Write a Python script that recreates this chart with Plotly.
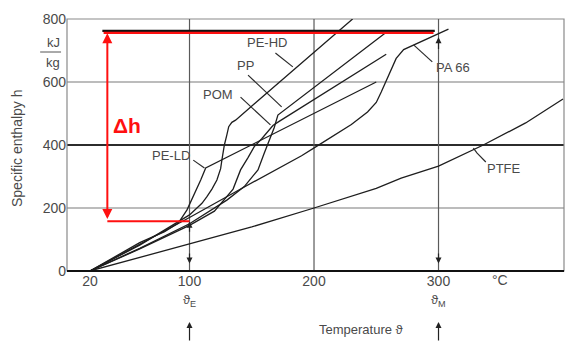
import plotly.graph_objects as go

# ---- data (temperature in °C, specific enthalpy in kJ/kg) ----
pehd_T = [20, 60, 100, 110, 114, 118, 122, 125, 126, 128, 130, 131.5, 134, 137, 231]
pehd_h = [0, 82, 178, 215, 236, 260, 289, 325, 352, 400, 432, 458, 472, 479, 800]

pp_T = [20, 60, 100, 130, 144, 155, 160, 165, 168, 171, 257]
pp_h = [0, 72, 150, 225, 268, 321, 374, 426, 455, 495, 755]

pom_T = [20, 60, 100, 120, 135, 141, 147, 152, 158, 163, 167, 172, 258]
pom_h = [0, 70, 145, 190, 260, 321, 360, 395, 420, 445, 462, 475, 688]

peld_T = [20, 60, 80, 91, 98, 103, 109, 113, 250]
peld_h = [0, 90, 125, 152, 194, 235, 289, 327, 600]

pa66_T = [20, 60, 100, 140, 170, 190, 203, 216, 230, 243, 250, 254, 258, 262, 266, 272, 284, 297, 308]
pa66_h = [0, 85, 170, 258, 322, 366, 398, 430, 465, 505, 535, 568, 605, 642, 675, 703, 724, 749, 768]

ptfe_T = [20, 100, 150, 200, 250, 270, 300, 336, 370, 400]
ptfe_h = [0, 85, 140, 200, 262, 295, 333, 400, 470, 546]

x_ticks = [20, 100, 200, 300, 400]
y_ticks = [0, 200, 400, 600, 800]

curve_names = ["PE-HD", "PP", "POM", "PE-LD", "PA 66", "PTFE"]
# label positions (T, h) and leader lines
label_pos = [(162, 727), (145, 651), (123, 559), (85, 368), (312, 645), (353, 327)]
leader_T = [[169, 183], [147, 174], [141, 165], [103, 112], [280, 295], [338, 331, 328]]
leader_h = [[692, 648], [622, 521], [552, 464], [352, 327], [718, 664], [346, 374, 390]]

dh_top, dh_bottom, dh_T = 757, 158, 34
T_E, T_M = 100, 300

GREY_TXT = "#4a4a4a"
FONT = "Liberation Sans"

fig = go.Figure()

curves = [(pehd_T, pehd_h), (pp_T, pp_h), (pom_T, pom_h),
          (peld_T, peld_h), (pa66_T, pa66_h), (ptfe_T, ptfe_h)]
for (tx, hy), nm in zip(curves, curve_names):
    fig.add_trace(go.Scatter(x=tx, y=hy, mode="lines", name=nm,
                             line=dict(color="#1e1e1e", width=1.3),
                             hoverinfo="skip", showlegend=False, cliponaxis=True))

for lt, lh in zip(leader_T, leader_h):
    fig.add_trace(go.Scatter(x=lt, y=lh, mode="lines",
                             line=dict(color="#2a2a2a", width=1.2),
                             hoverinfo="skip", showlegend=False))

# red / black delta-h construction
fig.add_trace(go.Scatter(x=[30, 297], y=[762, 762], mode="lines",
                         line=dict(color="#111", width=2.2), showlegend=False, hoverinfo="skip"))
fig.add_trace(go.Scatter(x=[31, 296], y=[756, 756], mode="lines",
                         line=dict(color="#ff1010", width=2.2), showlegend=False, hoverinfo="skip"))
fig.add_trace(go.Scatter(x=[dh_T, T_E], y=[dh_bottom, dh_bottom], mode="lines",
                         line=dict(color="#ff1010", width=2), showlegend=False, hoverinfo="skip"))

shapes = []
# vertical grid
for t in [100, 200, 300]:
    shapes.append(dict(type="line", xref="x", yref="y", x0=t, x1=t, y0=0, y1=800,
                       line=dict(color="#5a5a5a", width=1.2), layer="below"))
for hv, c, w in [(200, "#7a7a7a", 1.2), (600, "#7a7a7a", 1.2), (400, "#2c2c2c", 2.2)]:
    shapes.append(dict(type="line", xref="paper", yref="y", x0=0, x1=1, y0=hv, y1=hv,
                       line=dict(color=c, width=w), layer="below"))
# frame
shapes.append(dict(type="rect", xref="paper", yref="paper", x0=0, x1=1, y0=0, y1=1,
                   line=dict(color="#8a8a8a", width=1.2), layer="below"))
shapes.append(dict(type="line", xref="paper", yref="paper", x0=0, x1=1, y0=0, y1=0,
                   line=dict(color="#111", width=2.2)))
# kJ/kg fraction bar
shapes.append(dict(type="line", xref="paper", yref="paper", x0=-0.054, x1=-0.012,
                   y0=0.869, y1=0.869, line=dict(color="#555", width=1)))

ann = []
for nm, (tx, hy) in zip(curve_names, label_pos):
    ann.append(dict(x=tx, y=hy, text=nm, showarrow=False, xanchor="center", yanchor="middle",
                    font=dict(family=FONT, size=13, color=GREY_TXT)))

ann.append(dict(x=50, y=463, text="<b>Δh</b>", showarrow=False, xanchor="center",
                yanchor="middle", font=dict(family=FONT, size=21, color="#ff1010")))
# red double arrow
ann.append(dict(x=dh_T, y=dh_top - 2, ax=dh_T, ay=dh_bottom + 2, axref="x", ayref="y",
                text="", showarrow=True, arrowside="end+start", arrowhead=2,
                arrowsize=1, arrowwidth=2, arrowcolor="#ff1010"))
# arrowheads on grid lines
for t, h0, h1 in [(T_E, 60, 24), (T_M, 60, 24), (T_M, 700, 742), (T_E, 120, 156)]:
    ann.append(dict(x=t, y=h1, ax=t, ay=h0, axref="x", ayref="y", text="",
                    showarrow=True, arrowhead=2, arrowsize=1, arrowwidth=1.2,
                    arrowcolor="#222"))
# arrows under axis
for t in [T_E, T_M]:
    ann.append(dict(x=t, y=-0.202, xref="x", yref="paper", ax=0, ay=22, text="",
                    showarrow=True, arrowhead=2, arrowsize=1, arrowwidth=1.2,
                    arrowcolor="#222"))

def txt(x, y, s, size=13, xref="paper", **kw):
    ann.append(dict(x=x, y=y, xref=xref, yref="paper", text=s, showarrow=False,
                    xanchor="center", yanchor="middle",
                    font=dict(family=FONT, size=size, color=GREY_TXT), **kw))

txt(T_E, -0.118, "ϑ<sub>E</sub>", xref="x")
txt(T_M, -0.118, "ϑ<sub>M</sub>", xref="x")
txt(349, -0.036, "°C", size=14, xref="x")
txt(238, -0.234, "Temperature ϑ", xref="x")
txt(-0.028, 0.905, "kJ")
txt(-0.028, 0.829, "kg")
txt(-0.1006, 0.488, "Specific enthalpy h", size=14, textangle=-90)

fig.update_layout(
    width=573, height=342,
    margin=dict(l=67, r=9, t=19, b=71),
    paper_bgcolor="white", plot_bgcolor="white",
    shapes=shapes, annotations=ann,
    xaxis=dict(range=[1.6, 400.8], tickvals=x_ticks, ticktext=[str(v) for v in x_ticks],
               showgrid=False, zeroline=False, showline=False, ticks="",
               ticklabelstandoff=0,
               tickfont=dict(family=FONT, size=14, color=GREY_TXT), fixedrange=True),
    yaxis=dict(range=[0, 800], tickvals=y_ticks, ticktext=[str(v) for v in y_ticks],
               showgrid=False, zeroline=False, showline=False, ticks="",
               tickfont=dict(family=FONT, size=14, color=GREY_TXT), fixedrange=True),
)

fig.write_html("out.html")
